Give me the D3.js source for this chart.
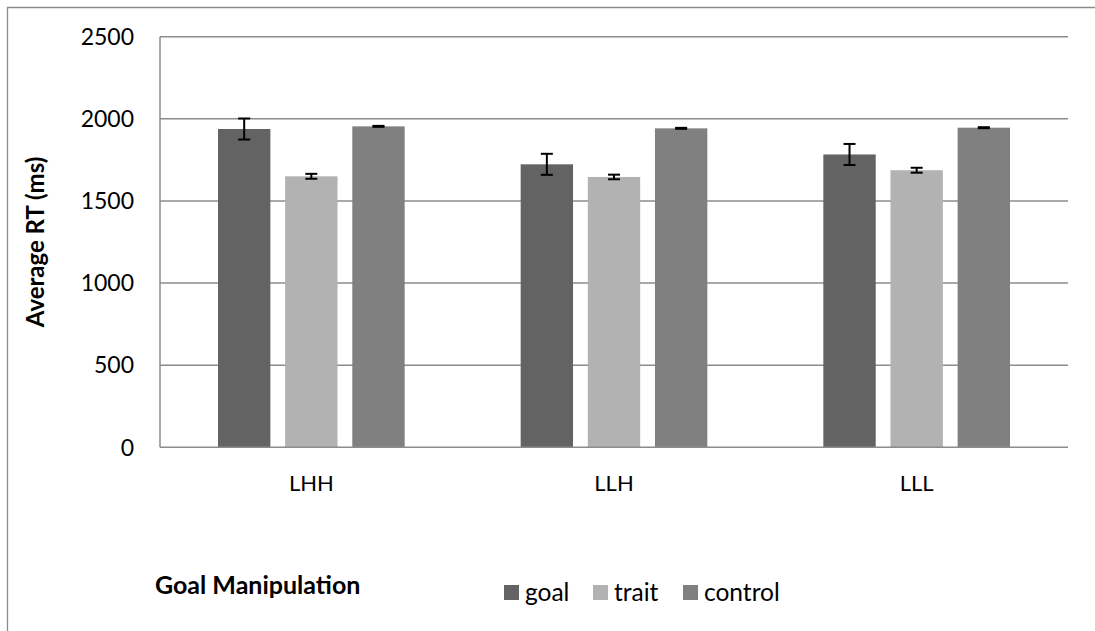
<!DOCTYPE html>
<html><head><meta charset="utf-8">
<script src="https://cdn.jsdelivr.net/npm/d3@7"></script>
<style>body{margin:0;background:#fff}svg{display:block;font-family:Lato,"Open Sans",sans-serif}</style>
</head><body>
<svg id="c" width="1095" height="631"></svg>
<script>
const categories = ["LHH", "LLH", "LLL"];
const seriesNames = ["goal", "trait", "control"];
const goalValues = [1938, 1723, 1783];
const traitValues = [1650, 1646, 1687];
const controlValues = [1954, 1942, 1946];
const goalErrors = [64, 64, 64];
const traitErrors = [15, 14, 15];
const controlErrors = [3, 3, 3];
const yTicks = [0, 500, 1000, 1500, 2000, 2500];
const colors = ["#636363", "#b2b2b2", "#808080"];

const values = [goalValues, traitValues, controlValues];
const errors = [goalErrors, traitErrors, controlErrors];
const data = categories.map((c, i) => ({cat: c, items: seriesNames.map((s, j) => ({s, v: values[j][i], e: errors[j][i], j}))}));

const svg = d3.select("#c");
const L = 160, R = 1068, T = 36.7, B = 447.3;

// outer border
svg.append("path").attr("d", "M7.5,640 V7.5 H1100").attr("fill", "none").attr("stroke", "#8c8c8c").attr("stroke-width", 1.3);

const y = d3.scaleLinear().domain([0, 2500]).range([B, T]);
const x0 = d3.scaleBand().domain(categories).range([L, R]).padding(0);
const gw = x0.bandwidth();
const x1 = d3.scaleBand().domain(seriesNames).range([58, gw - 58]).paddingInner(0.22).paddingOuter(0);

// gridlines
svg.append("g").selectAll("line").data(yTicks.filter(d => d > 0)).join("line")
  .attr("x1", L).attr("x2", R).attr("y1", d => y(d)).attr("y2", d => y(d))
  .attr("stroke", "#8c8c8c").attr("stroke-width", 1.5);

// y tick labels
svg.append("g").selectAll("text").data(yTicks).join("text")
  .attr("x", 134).attr("y", d => y(d)).attr("dy", "0.36em").attr("text-anchor", "end")
  .attr("font-size", 23).attr("fill", "#000").text(d => d);

// bars
const g = svg.append("g").selectAll("g").data(data).join("g").attr("transform", d => `translate(${x0(d.cat)},0)`);
g.selectAll("rect").data(d => d.items).join("rect")
  .attr("x", d => x1(d.s)).attr("width", x1.bandwidth())
  .attr("y", d => y(d.v)).attr("height", d => B - y(d.v))
  .attr("fill", d => colors[d.j]);

// error bars
const eb = g.selectAll("g.eb").data(d => d.items).join("g").attr("class", "eb")
  .attr("transform", d => `translate(${x1(d.s) + x1.bandwidth() / 2},0)`);
eb.append("line").attr("x1", 0).attr("x2", 0).attr("y1", d => y(d.v + d.e)).attr("y2", d => y(d.v - d.e)).attr("stroke", "#000").attr("stroke-width", 2);
eb.append("line").attr("x1", -6).attr("x2", 6).attr("y1", d => y(d.v + d.e)).attr("y2", d => y(d.v + d.e)).attr("stroke", "#000").attr("stroke-width", 2);
eb.append("line").attr("x1", -6).attr("x2", 6).attr("y1", d => y(d.v - d.e)).attr("y2", d => y(d.v - d.e)).attr("stroke", "#000").attr("stroke-width", 2);

// axes lines
svg.append("line").attr("x1", L).attr("x2", L).attr("y1", T).attr("y2", B).attr("stroke", "#8c8c8c").attr("stroke-width", 1.5);
svg.append("line").attr("x1", L).attr("x2", R).attr("y1", B).attr("y2", B).attr("stroke", "#8c8c8c").attr("stroke-width", 1.5);

// category labels
svg.append("g").selectAll("text").data(categories).join("text")
  .attr("x", d => x0(d) + gw / 2).attr("y", 491).attr("text-anchor", "middle")
  .attr("font-size", 22).attr("fill", "#000").text(d => d);

// y axis title
svg.append("text").attr("transform", `translate(44,${(T + B) / 2}) rotate(-90)`)
  .attr("text-anchor", "middle").attr("font-size", 24).attr("font-weight", "bold").text("Average RT (ms)");

// x title
svg.append("text").attr("x", 155).attr("y", 594).attr("font-size", 25).attr("font-weight", "bold").text("Goal Manipulation");

// legend
const legX = [504, 593, 683];
const lg = svg.append("g").selectAll("g").data(seriesNames).join("g").attr("transform", (d, i) => `translate(${legX[i]},0)`);
lg.append("rect").attr("x", 0).attr("y", 585).attr("width", 15).attr("height", 15).attr("fill", (d, i) => colors[i]);
lg.append("text").attr("x", 21).attr("y", 601).attr("font-size", 24.5).text(d => d);
</script>
</body></html>
